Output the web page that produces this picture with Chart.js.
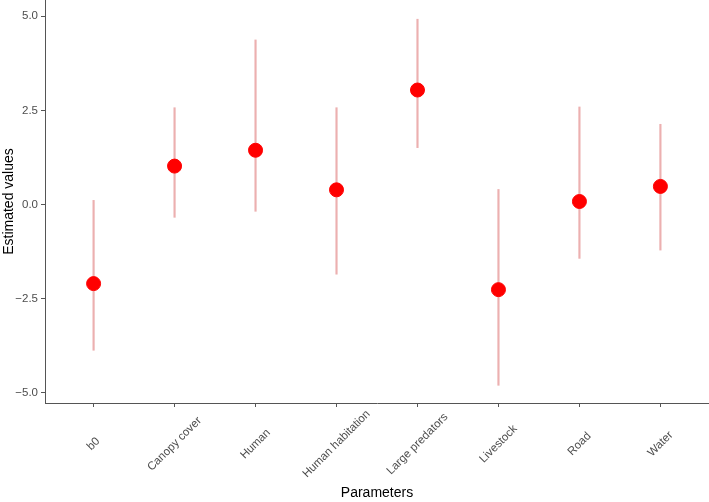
<!DOCTYPE html>
<html>
<head>
<meta charset="utf-8">
<script src="https://cdn.jsdelivr.net/npm/chart.js@4"></script>
<style>
html, body { margin: 0; padding: 0; background: #fff; }
#wrap { width: 709px; height: 502px; }
</style>
</head>
<body>
<div id="wrap"><canvas id="chart"></canvas></div>
<script>
// Parameter estimates with intervals
const parameters = ['b0', 'Canopy cover', 'Human', 'Human habitation', 'Large predators', 'Livestock', 'Road', 'Water'];
const estimates = [-2.10, 1.02, 1.44, 0.39, 3.04, -2.26, 0.08, 0.48];
const lower = [-3.87, -0.34, -0.18, -1.85, 1.51, -4.80, -1.43, -1.21];
const upper = [0.11, 2.57, 4.37, 2.57, 4.92, 0.40, 2.59, 2.13];
const yTicks = [-5, -2.5, 0, 2.5, 5];

const axisColor = '#555';
const tickColor = '#4d4d4d';
const font = 'Liberation Sans, Arial, sans-serif';

// x labels are centred on their tick (ggplot style), chart.js right-aligns rotated ones
const centredLabels = {
    id: 'centredLabels',
    afterDraw(chart) {
        const ctx = chart.ctx;
        const xs = chart.scales.x;
        ctx.save();
        ctx.fillStyle = tickColor;
        ctx.font = '11.5px ' + font;
        ctx.textAlign = 'center';
        ctx.textBaseline = 'middle';
        parameters.forEach((p, i) => {
            ctx.save();
            ctx.translate(xs.getPixelForValue(i), xs.top + 41);
            ctx.rotate(-Math.PI / 4);
            ctx.fillText(p, 0, 0);
            ctx.restore();
        });
        ctx.restore();
    }
};

new Chart(document.getElementById('chart'), {
    type: 'bar',
    data: {
        datasets: [
            {
                type: 'line',
                label: 'Estimate',
                data: estimates.map((v, i) => ({ x: i, y: v })),
                showLine: false,
                pointRadius: 7,
                pointBorderWidth: 1,
                pointBackgroundColor: '#ff0000',
                pointBorderColor: '#ff0000',
                order: 0
            },
            {
                label: 'Interval',
                data: lower.map((v, i) => ({ x: i, y: [v, upper[i]] })),
                backgroundColor: '#ecb0b0',
                barThickness: 1.5,
                order: 1
            }
        ]
    },
    options: {
        responsive: true,
        maintainAspectRatio: false,
        animation: false,
        layout: { padding: 0, autoPadding: false },
        plugins: { legend: { display: false }, tooltip: { enabled: false } },
        scales: {
            x: {
                type: 'linear',
                offset: false,
                min: -0.6,
                max: 7.6,
                afterBuildTicks: s => { s.ticks = parameters.map((p, i) => ({ value: i })); },
                afterFit: s => { s.height = 99; s.paddingLeft = 0; s.paddingRight = 0; },
                ticks: { display: false },
                grid: { offset: false, drawOnChartArea: false, tickLength: 4, color: axisColor },
                border: { color: axisColor, width: 1 },
                title: {
                    display: true,
                    text: 'Parameters',
                    color: '#000',
                    padding: { top: 2, bottom: 0 },
                    font: { family: font, size: 14 }
                }
            },
            y: {
                min: -5.27,
                max: 5.43,
                afterBuildTicks: s => { s.ticks = yTicks.map(v => ({ value: v })); },
                afterFit: s => { s.width = 45; s.paddingTop = 0; s.paddingBottom = 0; },
                ticks: {
                    callback: v => (v < 0 ? '\u2212' : '') + Math.abs(v).toFixed(1),
                    color: tickColor,
                    padding: 3,
                    font: { family: font, size: 11.5 }
                },
                grid: { drawOnChartArea: false, tickLength: 4, color: axisColor },
                border: { color: axisColor, width: 1 },
                title: {
                    display: true,
                    text: 'Estimated values',
                    color: '#000',
                    padding: { top: 1, bottom: 0 },
                    font: { family: font, size: 14 }
                }
            }
        }
    },
    plugins: [centredLabels]
});
</script>
</body>
</html>
